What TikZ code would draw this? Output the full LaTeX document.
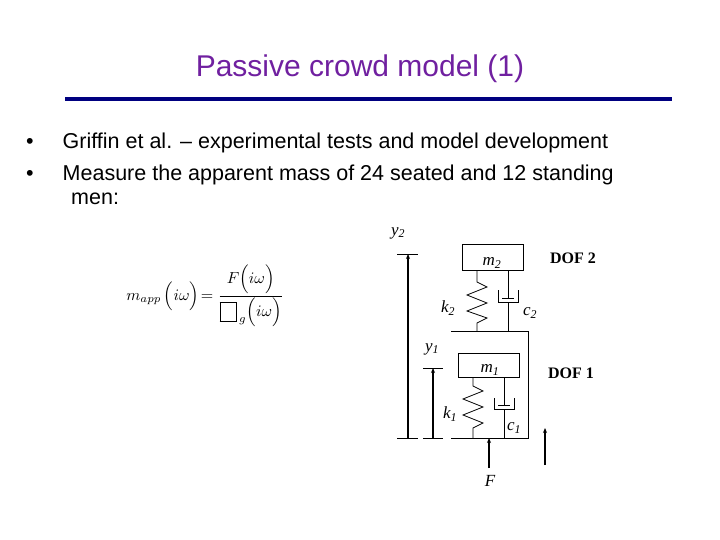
\documentclass[tikz,border=0pt]{standalone}
\usepackage{fontspec}
\setmainfont{Liberation Sans}
\newfontfamily\serifit{Liberation Serif}
\usetikzlibrary{arrows.meta}
\definecolor{ttl}{RGB}{112,32,160}
\definecolor{navy}{RGB}{0,0,128}
\begin{document}
\begin{tikzpicture}[x=1pt,y=-1pt,
  lbl/.style={font=\serifit\itshape\fontsize{17}{17}\selectfont,inner sep=0},
  dof/.style={font=\serifit\bfseries\fontsize{16}{16}\selectfont,inner sep=0},
  ln/.style={line width=0.8pt},
  arr/.style={line width=1.8pt,-{Stealth[length=5pt,width=4pt]}},
  bul/.style={font=\fontsize{21.5}{24}\selectfont,anchor=west,inner sep=0}]
\useasboundingbox (0,0) rectangle (720,540);
\node[text=ttl,font=\fontsize{30}{34}\selectfont] (title) at (360,69) {Passive crowd model (1)};
\draw[navy,line width=4pt] (65,99) coordinate (l1) -- (672,99) coordinate (l2);
\node[bul] (b1) at (26,143) {•\hspace{29pt}Griffin et al. – experimental tests and model development};
\node[bul] (b2) at (26,175) {•\hspace{29pt}Measure the apparent mass of 24 seated and 12 standing};
\node[bul] (b3) at (71,199) {men:};
% formula
\node[inner sep=0,scale=1.6] (eq) at (205,296)
 {$\displaystyle m_{app}\,\Bigl(i\omega\Bigr)\!=\frac{F\Bigl(i\omega\Bigr)}{\fbox{\rule{0pt}{6pt}\hspace{4pt}}_{\,g}\Bigl(i\omega\Bigr)}$};
% masses
\draw[ln] (462,244) rectangle (523,270);
\node[lbl] (m2) at (492,263) {m\textsubscript{2}};
\draw[ln] (458,353) rectangle (519,377);
\node[lbl] (m1) at (490,370) {m\textsubscript{1}};
% outer frame
\draw[ln] (451,331) -- (528,331) -- (528,438) -- (451,438);
% spring k2
\draw[ln] (477,270) -- (477,282) -- (487,287) -- (467,295) -- (487,303) -- (467,311) -- (487,318) -- (477,323) -- (477,331);
% damper c2
\draw[ln] (508,270) -- (508,298);
\draw[ln] (502,298) -- (514,298);
\draw[ln] (498,290) -- (498,302) -- (518,302) -- (518,290);
\draw[ln] (508,302) -- (508,331);
% spring k1
\draw[ln] (473,377) -- (473,386) -- (483,391) -- (463,399) -- (483,407) -- (463,415) -- (483,423) -- (473,428) -- (473,438);
% damper c1
\draw[ln] (504,377) -- (504,405);
\draw[ln] (498,405) -- (510,405);
\draw[ln] (494,398) -- (494,409) -- (514,409) -- (514,398);
\draw[ln] (504,409) -- (504,438);
% bars
\draw[ln] (397,254) -- (418,254);
\draw[ln] (397,438) -- (418,438);
\draw[ln] (423,368) -- (443,368);
\draw[ln] (423,438) -- (443,438);
\coordinate (y2b) at (408,438); \coordinate (y2t) at (408,254);
\coordinate (y1b) at (433,438); \coordinate (y1t) at (433,368);
\coordinate (fb) at (489,468); \coordinate (ft) at (489,438);
\coordinate (ab) at (545,465); \coordinate (at2) at (545,428);
\draw[arr] (y2b) -- (y2t);
\draw[arr] (y1b) -- (y1t);
\draw[arr] (fb) -- (ft);
\draw[arr] (ab) -- (at2);
\node[lbl] (y2) at (398,233) {y\textsubscript{2}};
\node[lbl] (y1) at (432,349) {y\textsubscript{1}};
\node[lbl] (k2) at (448,308) {k\textsubscript{2}};
\node[lbl] (c2) at (530,313) {c\textsubscript{2}};
\node[lbl] (k1) at (450,414) {k\textsubscript{1}};
\node[lbl] (c1) at (514,428) {c\textsubscript{1}};
\node[lbl] (F) at (490,481) {F};
\node[dof] (d2) at (573,258) {DOF 2};
\node[dof] (d1) at (571,373) {DOF 1};
\end{tikzpicture}
\end{document}
